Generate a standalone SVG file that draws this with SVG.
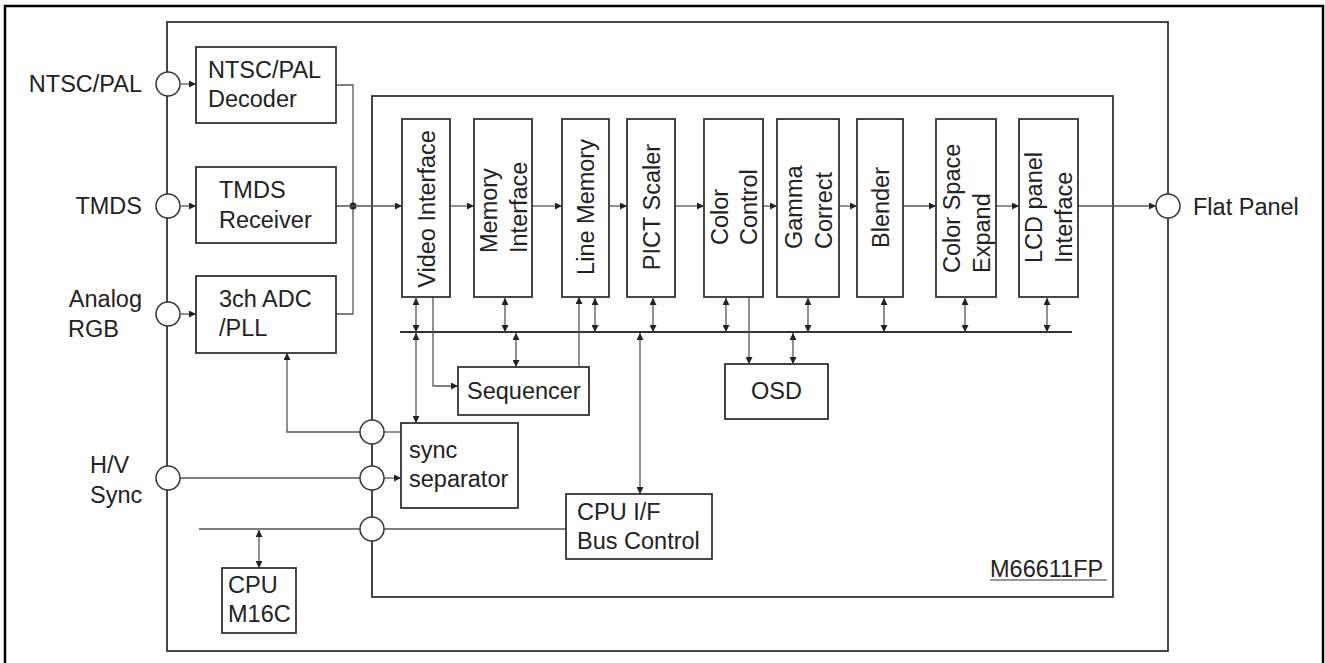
<svg xmlns="http://www.w3.org/2000/svg" width="1325" height="663" viewBox="0 0 1325 663">
  <style>
    text { font-family: "Liberation Sans", Arial, sans-serif; font-size: 23.5px; fill: #222; }
    .box { fill: #fff; stroke: #333; stroke-width: 1.8; }
    .frame { fill: none; stroke: #333; stroke-width: 1.8; }
    .port { fill: #fff; stroke: #333; stroke-width: 1.5; }
    .wire { fill: none; stroke: #555; stroke-width: 1.3; }
    .bus { fill: none; stroke: #333; stroke-width: 2; }
    .arr { marker-end: url(#ah); }
    .bi { marker-start: url(#ah); marker-end: url(#ah); }
  </style>
  <defs>
    <marker id="ah" viewBox="0 0 10 10" refX="10" refY="5" markerWidth="8" markerHeight="7" markerUnits="userSpaceOnUse" orient="auto-start-reverse">
      <path d="M0,0 L10,5 L0,10 z" fill="#222"/>
    </marker>
  </defs>

  <!-- page border -->
  <path d="M5,664 V6 H1323 V664" fill="none" stroke="#000" stroke-width="2.5"/>

  <!-- board and chip outlines -->
  <rect id="board" class="frame" x="167" y="22" width="1001" height="629"/>
  <g id="chip">
    <rect class="frame" x="372" y="96" width="741" height="501"/>
    <text x="990" y="577">M66611FP</text>
    <line x1="990" y1="580" x2="1107" y2="580" stroke="#333" stroke-width="1.2"/>
  </g>

  <!-- connectors -->
  <g id="connectors">
    <!-- inputs into front-end blocks -->
    <line class="wire arr" x1="181" y1="84" x2="196" y2="84"/>
    <line class="wire arr" x1="181" y1="206" x2="196" y2="206"/>
    <line class="wire arr" x1="181" y1="314" x2="196" y2="314"/>
    <!-- merged video path -->
    <polyline class="wire" points="336,85 353,85 353,314 336,314"/>
    <circle cx="353" cy="206" r="3.5" fill="#222"/>
    <line class="wire arr" x1="336" y1="206" x2="402" y2="206"/>
    <!-- pipeline -->
    <line class="wire arr" x1="450" y1="206" x2="474" y2="206"/>
    <line class="wire arr" x1="532" y1="206" x2="562" y2="206"/>
    <line class="wire arr" x1="609" y1="206" x2="627" y2="206"/>
    <line class="wire arr" x1="675" y1="206" x2="704" y2="206"/>
    <line class="wire arr" x1="763" y1="206" x2="777" y2="206"/>
    <line class="wire arr" x1="839" y1="206" x2="857" y2="206"/>
    <line class="wire arr" x1="903" y1="206" x2="936" y2="206"/>
    <line class="wire arr" x1="996" y1="206" x2="1019" y2="206"/>
    <line class="wire arr" x1="1078" y1="206" x2="1156" y2="206"/>
    <!-- internal bus -->
    <line class="bus" x1="400" y1="332" x2="1072" y2="332"/>
    <line class="wire bi" x1="416" y1="298" x2="416" y2="332"/>
    <line class="wire bi" x1="505" y1="298" x2="505" y2="332"/>
    <line class="wire bi" x1="595" y1="298" x2="595" y2="332"/>
    <line class="wire bi" x1="653" y1="298" x2="653" y2="332"/>
    <line class="wire bi" x1="726" y1="298" x2="726" y2="332"/>
    <line class="wire bi" x1="808" y1="298" x2="808" y2="332"/>
    <line class="wire bi" x1="884" y1="298" x2="884" y2="332"/>
    <line class="wire bi" x1="965" y1="298" x2="965" y2="332"/>
    <line class="wire bi" x1="1047" y1="298" x2="1047" y2="332"/>
    <line class="wire bi" x1="416" y1="333" x2="416" y2="423"/>
    <line class="wire bi" x1="516" y1="333" x2="516" y2="367"/>
    <line class="wire bi" x1="793" y1="333" x2="793" y2="364"/>
    <line class="wire bi" x1="640" y1="333" x2="640" y2="494"/>
    <!-- control paths -->
    <polyline class="wire arr" points="433,297 433,386 458,386"/>
    <line class="wire arr" x1="579" y1="367" x2="579" y2="297"/>
    <line class="wire arr" x1="749" y1="297" x2="749" y2="364"/>
    <!-- sync and CPU paths -->
    <polyline class="wire arr" points="360,432 287,432 287,353"/>
    <line class="wire" x1="384" y1="432" x2="401" y2="432"/>
    <line class="wire" x1="180" y1="478" x2="360" y2="478"/>
    <line class="wire arr" x1="384" y1="478" x2="401" y2="478"/>
    <line class="wire" x1="199" y1="529" x2="360" y2="529"/>
    <line class="wire" x1="384" y1="529" x2="566" y2="529"/>
    <line class="wire bi" x1="259" y1="530" x2="259" y2="568"/>
  </g>

  <!-- board ports -->
  <g id="port-ntsc"><circle class="port" cx="168" cy="84" r="12"/><text x="142" y="92" text-anchor="end">NTSC/PAL</text></g>
  <g id="port-tmds"><circle class="port" cx="168" cy="206" r="12"/><text x="142" y="214" text-anchor="end">TMDS</text></g>
  <g id="port-rgb"><circle class="port" cx="168" cy="314" r="12"/><text x="142" y="307" text-anchor="end">Analog</text><text x="68" y="337">RGB</text></g>
  <g id="port-hv"><circle class="port" cx="168" cy="478" r="12"/><text x="90" y="473">H/V</text><text x="90" y="503">Sync</text></g>
  <g id="port-flat"><circle class="port" cx="1168" cy="206" r="12"/><text x="1193" y="215">Flat Panel</text></g>

  <!-- chip ports -->
  <g id="chip-port-pll"><circle class="port" cx="372" cy="432" r="12"/></g>
  <g id="chip-port-sync"><circle class="port" cx="372" cy="478" r="12"/></g>
  <g id="chip-port-cpu"><circle class="port" cx="372" cy="529" r="12"/></g>

  <!-- front-end blocks -->
  <g id="decoder"><rect class="box" x="196" y="47" width="140" height="76"/><text x="208" y="78">NTSC/PAL</text><text x="208" y="107">Decoder</text></g>
  <g id="tmds-rx"><rect class="box" x="196" y="167" width="140" height="76"/><text x="219" y="198">TMDS</text><text x="219" y="228">Receiver</text></g>
  <g id="adc"><rect class="box" x="196" y="276" width="140" height="77"/><text x="219" y="307">3ch ADC</text><text x="219" y="336">/PLL</text></g>
  <g id="cpu"><rect class="box" x="222" y="568" width="74" height="65"/><text x="228" y="593">CPU</text><text x="228" y="622">M16C</text></g>

  <!-- pipeline blocks (vertical labels) -->
  <g id="video-if"><rect class="box" x="402" y="119" width="48" height="178"/>
    <text transform="translate(435,209) rotate(-90)" text-anchor="middle">Video Interface</text></g>
  <g id="memory-if"><rect class="box" x="474" y="119" width="58" height="178"/>
    <text transform="translate(497,253) rotate(-90)">Memory</text>
    <text transform="translate(527,253) rotate(-90)">Interface</text></g>
  <g id="line-mem"><rect class="box" x="562" y="119" width="47" height="178"/>
    <text transform="translate(594,207) rotate(-90)" text-anchor="middle">Line Memory</text></g>
  <g id="scaler"><rect class="box" x="627" y="119" width="48" height="178"/>
    <text transform="translate(660,207) rotate(-90)" text-anchor="middle">PICT Scaler</text></g>
  <g id="color-ctl"><rect class="box" x="704" y="119" width="59" height="178"/>
    <text transform="translate(728,245) rotate(-90)">Color</text>
    <text transform="translate(757,245) rotate(-90)">Control</text></g>
  <g id="gamma"><rect class="box" x="777" y="119" width="62" height="178"/>
    <text transform="translate(802,249) rotate(-90)">Gamma</text>
    <text transform="translate(832,249) rotate(-90)">Correct</text></g>
  <g id="blender"><rect class="box" x="857" y="119" width="46" height="178"/>
    <text transform="translate(889,248) rotate(-90)">Blender</text></g>
  <g id="cs-expand"><rect class="box" x="936" y="119" width="60" height="178"/>
    <text transform="translate(960,273) rotate(-90)">Color Space</text>
    <text transform="translate(990,273) rotate(-90)">Expand</text></g>
  <g id="lcd-if"><rect class="box" x="1019" y="119" width="59" height="178"/>
    <text transform="translate(1042,263) rotate(-90)">LCD panel</text>
    <text transform="translate(1072,263) rotate(-90)">Interface</text></g>

  <!-- control blocks -->
  <g id="sequencer"><rect class="box" x="458" y="367" width="131" height="48"/><text x="467" y="399">Sequencer</text></g>
  <g id="osd"><rect class="box" x="725" y="364" width="103" height="55"/><text x="751" y="399">OSD</text></g>
  <g id="sync-sep"><rect class="box" x="401" y="423" width="117" height="85"/><text x="409" y="458">sync</text><text x="409" y="487">separator</text></g>
  <g id="cpu-if"><rect class="box" x="566" y="494" width="146" height="65"/><text x="577" y="520">CPU I/F</text><text x="577" y="549">Bus Control</text></g>
</svg>
